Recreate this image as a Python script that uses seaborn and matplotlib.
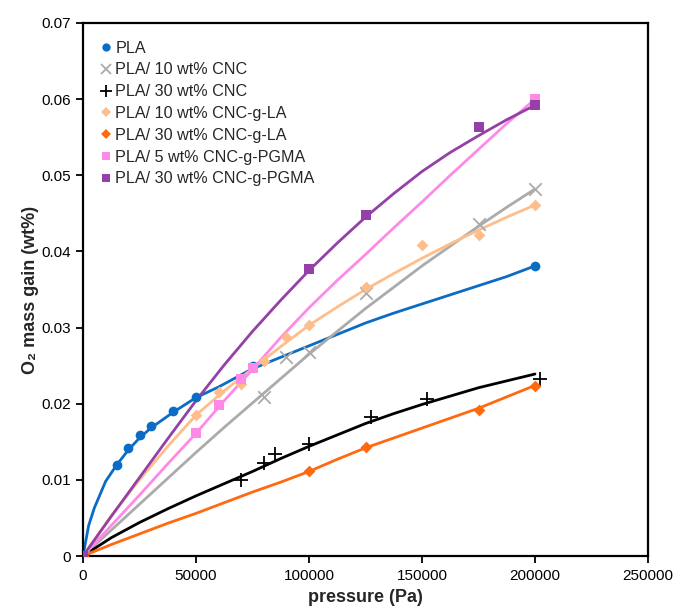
import numpy as np
import pandas as pd
import matplotlib
matplotlib.use("Agg")
import matplotlib.pyplot as plt
from matplotlib.lines import Line2D
import seaborn as sns

# ---------------- data ----------------
series_names = ["PLA", "PLA/ 10 wt% CNC", "PLA/ 30 wt% CNC",
                "PLA/ 10 wt% CNC-g-LA", "PLA/ 30 wt% CNC-g-LA",
                "PLA/ 5 wt% CNC-g-PGMA", "PLA/ 30 wt% CNC-g-PGMA"]

# measured points
pla_px = [0, 15000, 20000, 25000, 30000, 40000, 50000, 75000, 200000]
pla_py = [0, 0.0119, 0.0142, 0.0159, 0.0171, 0.0191, 0.0209, 0.0249, 0.0381]
cnc10_px = [0, 80000, 90000, 100000, 125000, 175000, 200000]
cnc10_py = [0, 0.0209, 0.0261, 0.0268, 0.0345, 0.0436, 0.0482]
cnc30_px = [0, 70000, 80000, 85000, 100000, 127500, 152000, 202000]
cnc30_py = [0, 0.0100, 0.0122, 0.0134, 0.0147, 0.0183, 0.0206, 0.0232]
la10_px = [0, 50000, 60000, 70000, 80000, 90000, 100000, 125000, 150000, 175000, 200000]
la10_py = [0, 0.0185, 0.0216, 0.0226, 0.0256, 0.0287, 0.0304, 0.0353, 0.0409, 0.0421, 0.0461]
la30_px = [0, 100000, 125000, 175000, 200000]
la30_py = [0, 0.0111, 0.0143, 0.0192, 0.0223]
pg5_px = [0, 50000, 60000, 70000, 75000, 200000]
pg5_py = [0, 0.0161, 0.0198, 0.0232, 0.0247, 0.0600]
pg30_px = [0, 100000, 125000, 175000, 200000]
pg30_py = [0, 0.0377, 0.0448, 0.0563, 0.0592]

# model curves
pla_lx = [0, 2500, 5000, 10000, 15000, 20000, 25000, 30000, 40000, 50000, 60000,
          75000, 87500, 100000, 112500, 125000, 137500, 150000, 162500, 175000, 187500, 200000]
pla_ly = [0, 0.0040, 0.0063, 0.0098, 0.0120, 0.0139, 0.0155, 0.0168, 0.0189, 0.0208,
          0.0222, 0.0246, 0.0261, 0.0276, 0.0291, 0.0306, 0.0319, 0.0331, 0.0343, 0.0355,
          0.0367, 0.0381]
curve_x = [0, 12500, 25000, 37500, 50000, 62500, 75000, 87500, 100000, 112500, 125000,
           137500, 150000, 162500, 175000, 187500, 200000]
cnc10_ly = [0, 0.0034, 0.0068, 0.0102, 0.0136, 0.0169, 0.0201, 0.0233, 0.0265, 0.0295,
            0.0325, 0.0353, 0.0381, 0.0407, 0.0433, 0.0458, 0.0482]
cnc30_ly = [0, 0.0024, 0.0044, 0.0062, 0.0079, 0.0095, 0.0111, 0.0128, 0.0144, 0.0159,
            0.0174, 0.0187, 0.0199, 0.0210, 0.0221, 0.0230, 0.0239]
la10_ly = [0, 0.0053, 0.0100, 0.0144, 0.0185, 0.0217, 0.0246, 0.0275, 0.0303, 0.0327,
           0.0350, 0.0371, 0.0391, 0.0410, 0.0428, 0.0445, 0.0461]
la30_ly = [0, 0.0015, 0.0029, 0.0043, 0.0056, 0.0070, 0.0084, 0.0097, 0.0111, 0.0127,
           0.0142, 0.0155, 0.0168, 0.0181, 0.0194, 0.0209, 0.0224]
pg5_ly = [0, 0.0040, 0.0080, 0.0121, 0.0161, 0.0204, 0.0245, 0.0287, 0.0326, 0.0362,
          0.0396, 0.0431, 0.0465, 0.0500, 0.0534, 0.0568, 0.0600]
pg30_ly = [0, 0.0052, 0.0103, 0.0154, 0.0204, 0.0251, 0.0295, 0.0336, 0.0375, 0.0411,
           0.0445, 0.0476, 0.0505, 0.0530, 0.0552, 0.0573, 0.0592]

x_ticks = [0, 50000, 100000, 150000, 200000, 250000]
y_ticks = [0, 0.01, 0.02, 0.03, 0.04, 0.05, 0.06, 0.07]
y_tick_labels = ["0", "0.01", "0.02", "0.03", "0.04", "0.05", "0.06", "0.07"]

# ---------------- styling ----------------
colors = ["#0A6CC4", "#ABABAB", "#000000", "#FDBE8C", "#FF6A10", "#FF8AE6", "#9440A8"]
markers = ["o", "x", "+", "D", "D", "s", "s"]
msizes = [7, 9, 10, 6, 6, 7, 7]

points = [(pla_px, pla_py), (cnc10_px, cnc10_py), (cnc30_px, cnc30_py),
          (la10_px, la10_py), (la30_px, la30_py), (pg5_px, pg5_py), (pg30_px, pg30_py)]
curves = [(pla_lx, pla_ly), (curve_x, cnc10_ly), (curve_x, cnc30_ly), (curve_x, la10_ly),
          (curve_x, la30_ly), (curve_x, pg5_ly), (curve_x, pg30_ly)]

sns.set_theme(style="white")
plt.rcParams["font.family"] = ["Liberation Sans", "DejaVu Sans"]

fig = plt.figure(figsize=(6.78, 6.11), dpi=100)
ax = fig.add_axes([83 / 678, 1 - 556 / 611, (648 - 83) / 678, (556 - 23) / 611])

for name, (lx, ly), c in zip(series_names, curves, colors):
    df = pd.DataFrame({"x": lx, "y": ly})
    line = sns.lineplot(data=df, x="x", y="y", ax=ax, color=c, lw=2, sort=False,
                        estimator=None, legend=False, zorder=2)
for ln in ax.get_lines():
    ln.set_solid_joinstyle("round")

for name, (px, py), c, m, s in zip(series_names, points, colors, markers, msizes):
    df = pd.DataFrame({"x": px, "y": py})
    if m in ("x", "+"):
        sns.scatterplot(data=df, x="x", y="y", ax=ax, marker=m, color=c, s=s ** 2,
                        linewidth=1.3, legend=False, zorder=3)
    else:
        sns.scatterplot(data=df, x="x", y="y", ax=ax, marker=m, color=c, s=s ** 2,
                        edgecolor=c, linewidth=0, legend=False, zorder=3)

ax.set_xlim(0, 250000)
ax.set_ylim(0, 0.07)
ax.set_xticks(x_ticks)
ax.set_xticklabels([str(v) for v in x_ticks])
ax.set_yticks(y_ticks)
ax.set_yticklabels(y_tick_labels)
ax.tick_params(axis="both", which="both", direction="out", length=5, width=1.3,
               labelsize=11, colors="black", bottom=True, left=True, top=False, right=False,
               pad=4)
for sp in ax.spines.values():
    sp.set_visible(True)
    sp.set_color("black")
    sp.set_linewidth(1.6)

ax.set_xlabel("pressure (Pa)", fontsize=13, fontweight="bold", labelpad=5)
ax.set_ylabel("O\u2082 mass gain (wt%)", fontsize=13, fontweight="bold", labelpad=1)

handles = []
for name, c, m, s in zip(series_names, colors, markers, msizes):
    if m in ("x", "+"):
        h = Line2D([], [], ls="none", marker=m, color=c, markersize=s * 0.85, markeredgewidth=1.3)
    else:
        h = Line2D([], [], ls="none", marker=m, color=c, markersize=s * 0.85,
                   markeredgewidth=0)
    handles.append(h)
leg = ax.legend(handles, series_names, loc="upper left", bbox_to_anchor=(0.0, 1.0),
                frameon=False, fontsize=11.6, handlelength=0.6, handletextpad=0.3,
                labelspacing=0.42, borderaxespad=0.7)

fig.savefig("out.png", dpi=100, facecolor="white")
